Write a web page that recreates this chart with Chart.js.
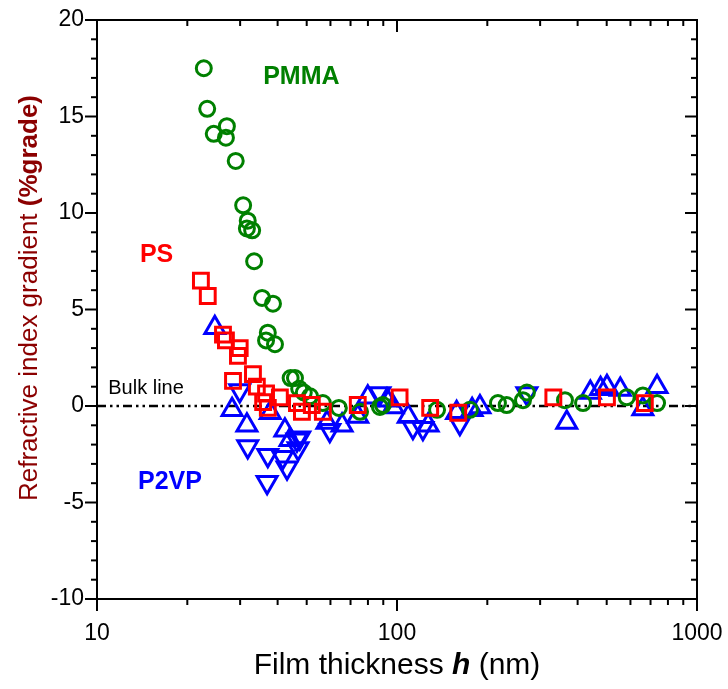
<!DOCTYPE html>
<html>
<head>
<meta charset="utf-8">
<script src="https://cdn.jsdelivr.net/npm/chart.js@4.4.1/dist/chart.umd.min.js"></script>
<style>
  html, body { margin: 0; padding: 0; background: #fff; }
  #wrap { width: 728px; height: 689px; position: relative; }
</style>
</head>
<body>
<div id="wrap"><canvas id="grafico"></canvas></div>
<script>
// PMMA (circulos verdes)
const pmmaX = [22.7, 23.3, 24.5, 27.1, 26.9, 29.0, 30.7, 31.8, 31.6, 32.9, 33.4, 35.5, 38.6, 37.1, 36.6, 39.2,
               44.2, 45.7, 47.2, 48.9, 51.3, 56.6, 64.0, 75.3, 87.7, 89.7, 136, 175, 217, 232, 263, 271,
               363, 417, 583, 660, 736];
const pmmaY = [17.5, 15.4, 14.1, 14.5, 13.9, 12.7, 10.4, 9.6, 9.2, 9.1, 7.5, 5.6, 5.3, 3.8, 3.4, 3.2,
               1.45, 1.45, 0.9, 0.7, 0.5, 0.15, -0.1, -0.3, -0.05, 0.05, -0.2, -0.2, 0.15, 0.05, 0.3, 0.7,
               0.3, 0.15, 0.45, 0.55, 0.15];

// PS (cuadrados rojos)
const psX = [22.2, 23.4, 26.3, 26.9, 29.9, 29.5, 28.4, 33.1, 34.1, 36.6, 35.8, 37.1, 40.7, 46.4, 48.2, 52.0,
             56.6, 74.0, 102, 129, 160, 332, 501, 670];
const psY = [6.5, 5.7, 3.7, 3.4, 3.0, 2.6, 1.3, 1.65, 1.0, 0.65, 0.2, -0.1, 0.45, 0.15, -0.3, 0.05,
             -0.3, 0.05, 0.45, -0.1, -0.35, 0.45, 0.45, 0.15];

// P2VP (triangulos azules hacia arriba)
const p2vpUpX = [24.7, 28.2, 31.6, 37.8, 42.3, 44.0, 58.4, 65.6, 74.0, 79.9, 92.6, 97.1, 109, 127, 158, 178,
                 189, 368, 441, 477, 501, 555, 660, 736];
const p2vpUpY = [4.05, -0.2, -1.0, -0.35, -1.25, -1.75, -0.85, -1.0, -0.55, 0.45, 0.3, -0.05, -0.55, -1.0, -0.35, -0.2,
                 -0.05, -0.85, 0.7, 0.9, 1.0, 0.85, -0.15, 1.0];

// P2VP (triangulos azules hacia abajo)
const p2vpDownX = [29.9, 31.8, 37.1, 41.6, 43.0, 46.8, 46.4, 36.9, 59.7, 47.4, 113, 122, 162, 271, 87.7];
const p2vpDownY = [0.8, -2.1, -2.55, -2.65, -3.2, -2.2, -1.75, -3.95, -1.25, -1.65, -1.1, -1.15, -0.9, 0.65, 0.65];

const xTicks = [10, 100, 1000];
const yTicks = [-10, -5, 0, 5, 10, 15, 20];

const familia = '"Liberation Sans", Arial, sans-serif';

// Etiquetas dentro del grafico (en coordenadas de datos)
const etiquetas = [
    { texto: 'PMMA', x: 35.8, y: 17.05, color: '#008000', fuente: 'bold 25px ' + familia },
    { texto: 'PS', x: 13.9, y: 7.8, color: '#ff0000', fuente: 'bold 25px ' + familia },
    { texto: 'P2VP', x: 13.7, y: -3.95, color: '#0000ff', fuente: 'bold 25px ' + familia },
    { texto: 'Bulk line', x: 10.9, y: 0.9, color: '#000000', fuente: '20px ' + familia }
];

function zip(xs, ys) {
    return xs.map((x, i) => ({ x: x, y: ys[i] }));
}

const marcoPlugin = {
    id: 'marco',
    afterDraw(chart) {
        const { ctx, chartArea: a, scales: { x, y } } = chart;
        ctx.save();
        ctx.strokeStyle = '#000';
        ctx.lineWidth = 2;

        function linea(x1, y1, x2, y2) {
            ctx.beginPath();
            ctx.moveTo(x1, y1);
            ctx.lineTo(x2, y2);
            ctx.stroke();
        }

        ctx.strokeRect(a.left, a.top, a.right - a.left, a.bottom - a.top);

        // ticks eje y
        for (let v = -10; v <= 20; v++) {
            const py = y.getPixelForValue(v);
            const largo = v % 5 === 0 ? 12 : 6;
            linea(a.left - largo, py, a.left, py);
            linea(a.right - largo, py, a.right, py);
        }

        // ticks eje x (log)
        for (let d = 10; d <= 1000; d *= 10) {
            for (let k = 1; k <= 9; k++) {
                const v = d * k;
                if (v > 1000) break;
                const px = x.getPixelForValue(v);
                const largo = k === 1 ? 12 : 6;
                linea(px, a.bottom, px, a.bottom + largo);
                linea(px, a.top, px, a.top + largo);
            }
        }

        // etiquetas
        ctx.textBaseline = 'middle';
        ctx.textAlign = 'left';
        etiquetas.forEach(e => {
            ctx.font = e.fuente;
            ctx.fillStyle = e.color;
            ctx.fillText(e.texto, x.getPixelForValue(e.x), y.getPixelForValue(e.y));
        });

        // titulo eje x: "Film thickness h (nm)"
        const normalX = '30px ' + familia;
        const partesX = [['Film thickness ', normalX], ['h', 'bold italic 30px ' + familia], [' (nm)', normalX]];
        ctx.fillStyle = '#000';
        let total = 0;
        partesX.forEach(p => { ctx.font = p[1]; total += ctx.measureText(p[0]).width; });
        let cx = (a.left + a.right) / 2 - total / 2;
        partesX.forEach(p => {
            ctx.font = p[1];
            ctx.fillText(p[0], cx, 666);
            cx += ctx.measureText(p[0]).width;
        });

        // titulo eje y: "Refractive index gradient (%grade)"
        const partesY = [['Refractive index gradient ', '26px ' + familia], ['(%grade)', 'bold 26px ' + familia]];
        ctx.fillStyle = '#8b0000';
        total = 0;
        partesY.forEach(p => { ctx.font = p[1]; total += ctx.measureText(p[0]).width; });
        ctx.translate(30, 298);
        ctx.rotate(-Math.PI / 2);
        cx = -total / 2;
        partesY.forEach(p => {
            ctx.font = p[1];
            ctx.fillText(p[0], cx, 0);
            cx += ctx.measureText(p[0]).width;
        });

        ctx.restore();
    }
};

const fuenteTicks = { family: familia, size: 23 };

new Chart(document.getElementById('grafico'), {
    type: 'scatter',
    data: {
        datasets: [
            {
                label: 'PS',
                data: zip(psX, psY),
                pointStyle: 'rect',
                pointRadius: 10.5,
                borderColor: '#ff0000',
                backgroundColor: 'rgba(0,0,0,0)',
                borderWidth: 3
            },
            {
                label: 'PMMA',
                data: zip(pmmaX, pmmaY),
                pointStyle: 'circle',
                pointRadius: 7.5,
                borderColor: '#008000',
                backgroundColor: 'rgba(0,0,0,0)',
                borderWidth: 3
            },
            {
                label: 'P2VP',
                data: zip(p2vpUpX, p2vpUpY),
                pointStyle: 'triangle',
                pointRadius: 11.5,
                borderColor: '#0000ff',
                backgroundColor: 'rgba(0,0,0,0)',
                borderWidth: 3
            },
            {
                label: 'P2VP (2)',
                data: zip(p2vpDownX, p2vpDownY),
                pointStyle: 'triangle',
                rotation: 180,
                pointRadius: 11.5,
                borderColor: '#0000ff',
                backgroundColor: 'rgba(0,0,0,0)',
                borderWidth: 3
            },
            {
                type: 'line',
                label: 'Bulk line',
                data: [{ x: 10, y: 0 }, { x: 1000, y: 0 }],
                borderColor: '#000',
                borderWidth: 2.5,
                borderDash: [9, 4, 2.5, 4, 2.5, 4],
                pointRadius: 0,
                showLine: true
            }
        ]
    },
    options: {
        responsive: true,
        maintainAspectRatio: false,
        animation: false,
        events: [],
        layout: { padding: { top: 20, right: 31, left: 0, bottom: 0 } },
        plugins: {
            legend: { display: false },
            tooltip: { enabled: false }
        },
        scales: {
            x: {
                type: 'logarithmic',
                min: 10,
                max: 1000,
                grid: { display: false },
                border: { display: false },
                afterBuildTicks: scale => { scale.ticks = xTicks.map(v => ({ value: v })); },
                afterFit: scale => {
                    scale.height = 90;
                    scale.paddingLeft = 0;
                    scale.paddingRight = 0;
                },
                ticks: {
                    color: '#000',
                    font: fuenteTicks,
                    padding: 13,
                    maxRotation: 0,
                    autoSkip: false,
                    callback: v => String(v)
                }
            },
            y: {
                type: 'linear',
                min: -10,
                max: 20,
                grid: { display: false },
                border: { display: false },
                afterBuildTicks: scale => { scale.ticks = yTicks.map(v => ({ value: v })); },
                afterFit: scale => {
                    scale.width = 97;
                    scale.paddingTop = 0;
                    scale.paddingBottom = 0;
                },
                ticks: {
                    color: '#000',
                    font: fuenteTicks,
                    padding: 5,
                    callback: v => String(v)
                }
            }
        }
    },
    plugins: [marcoPlugin]
});
</script>
</body>
</html>
